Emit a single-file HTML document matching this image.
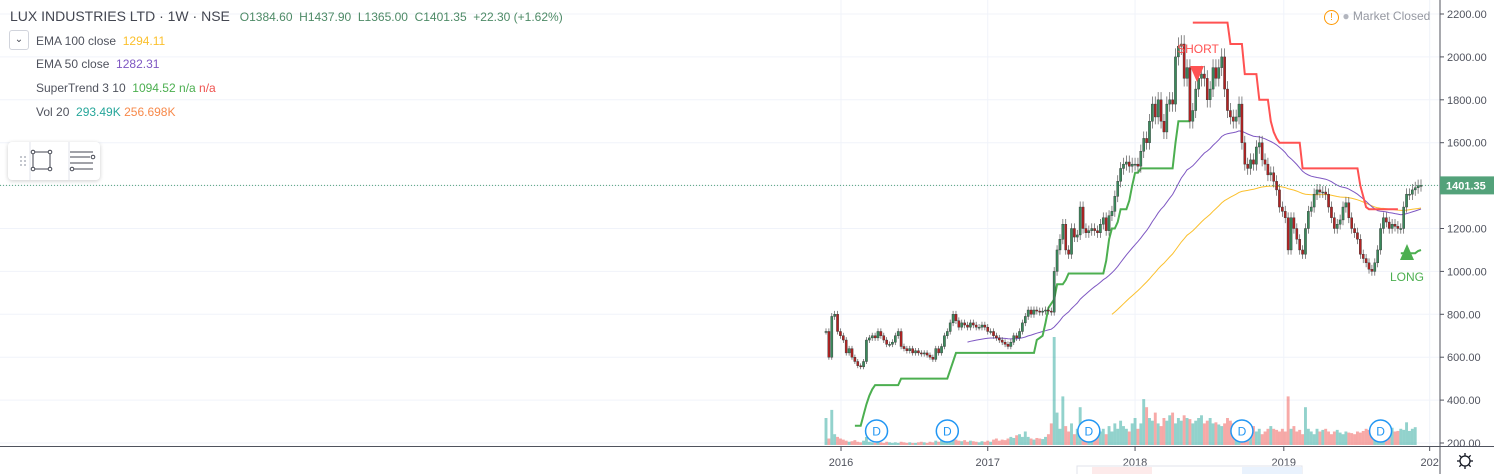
<!DOCTYPE html>
<html><head><meta charset="utf-8">
<style>
body{margin:0;width:1494px;height:474px;overflow:hidden;background:#fff;font-family:"Liberation Sans",sans-serif;}
#wrap{position:relative;width:1494px;height:474px;}
.t{position:absolute;white-space:nowrap;font-size:12px;color:#50535e;}
</style></head><body>
<div id="wrap">
<svg id="svg" width="1494" height="474" style="position:absolute;left:0;top:0"></svg>
<div class="t" style="left:10px;top:8px;font-size:14px;color:#434651">LUX INDUSTRIES LTD · 1W · NSE <span style="font-size:12px;color:#4d8a66;margin-left:6px">O1384.60&nbsp; H1437.90&nbsp; L1365.00&nbsp; C1401.35&nbsp; +22.30 (+1.62%)</span></div>
<div style="position:absolute;left:9px;top:30px;width:18px;height:18px;border:1px solid #d1d4dc;border-radius:3px;font-size:10px;text-align:center;line-height:18px;color:#434651">&#8964;</div>
<div class="t" style="left:36px;top:34px">EMA 100 close &nbsp;<span style="color:#fbc02d">1294.11</span></div>
<div class="t" style="left:36px;top:57px">EMA 50 close &nbsp;<span style="color:#7e57c2">1282.31</span></div>
<div class="t" style="left:36px;top:81px">SuperTrend 3 10 &nbsp;<span style="color:#4caf50">1094.52</span> <span style="color:#4caf50">n/a</span> <span style="color:#ef5350">n/a</span></div>
<div class="t" style="left:36px;top:105px">Vol 20 &nbsp;<span style="color:#26a69a">293.49K</span> <span style="color:#f7894a">256.698K</span></div>
<div style="position:absolute;left:8px;top:142px;width:92px;height:38px;background:#fff;border-radius:4px;box-shadow:0 1px 4px rgba(0,0,0,.2)">
<svg width="92" height="38"><g fill="#b2b5be"><circle cx="13" cy="15" r="1"/><circle cx="17" cy="15" r="1"/><circle cx="13" cy="19" r="1"/><circle cx="17" cy="19" r="1"/><circle cx="13" cy="23" r="1"/><circle cx="17" cy="23" r="1"/></g>
<line x1="22" y1="0" x2="22" y2="38" stroke="#e0e3eb"/><line x1="61" y1="0" x2="61" y2="38" stroke="#e0e3eb"/>
<g stroke="#434651" fill="#fff"><rect x="25" y="10" width="17" height="17" fill="none"/><circle cx="25" cy="10" r="1.8"/><circle cx="42" cy="10" r="1.8"/><circle cx="25" cy="27" r="1.8"/><circle cx="42" cy="27" r="1.8"/></g>
<g stroke="#434651" fill="#fff"><line x1="62" y1="10" x2="85" y2="10"/><line x1="62" y1="15" x2="82" y2="15"/><line x1="62" y1="21" x2="85" y2="21"/><line x1="66" y1="27" x2="85" y2="27"/><circle cx="85" cy="15" r="1.8"/><circle cx="64" cy="27" r="1.8"/></g></svg></div>
<div class="t" style="left:1324px;top:9px;color:#9598a1;font-size:12px"><span style="display:inline-block;width:13px;height:13px;border:1px solid #ff9800;border-radius:50%;color:#ff9800;text-align:center;line-height:13px;font-size:10px">!</span> <span style="color:#b2b5be">●</span> Market Closed</div>
</div>
<script>
const closes=[720,600,790,800,720,700,680,620,640,600,580,560,555,580,680,690,700,690,720,700,680,660,660,670,700,720,650,640,630,640,620,630,620,615,620,610,600,590,640,620,650,700,720,760,800,770,740,760,750,740,760,750,740,740,750,740,720,720,700,690,680,670,660,650,670,700,690,720,760,790,820,800,820,815,810,815,820,815,810,1000,1100,1150,1220,1100,1080,1200,1160,1170,1300,1200,1180,1190,1200,1190,1180,1220,1250,1190,1260,1280,1350,1420,1480,1500,1510,1490,1500,1500,1490,1560,1620,1600,1700,1780,1720,1800,1700,1650,1780,1800,1780,2000,2050,2060,1900,1950,1700,1750,1850,1900,1920,1900,1800,1850,1950,1900,1950,2000,1850,1750,1720,1700,1720,1780,1600,1500,1480,1520,1500,1580,1600,1520,1500,1450,1460,1420,1380,1300,1280,1250,1100,1250,1200,1150,1100,1080,1200,1280,1300,1360,1380,1370,1370,1360,1300,1250,1200,1220,1240,1300,1320,1250,1200,1180,1150,1080,1060,1040,1010,1000,1040,1100,1200,1250,1230,1200,1220,1210,1200,1200,1300,1360,1360,1380,1390,1400,1401];
const volumes=[500,120,650,200,150,120,100,80,60,70,90,60,50,80,150,60,50,40,60,50,40,60,50,40,50,40,60,50,40,50,40,40,50,60,50,40,60,50,80,60,100,250,120,100,150,100,80,70,90,60,80,70,60,50,70,60,80,60,100,120,80,100,90,120,150,130,180,200,150,250,150,120,100,130,120,110,150,200,400,2000,600,300,900,350,250,400,200,300,700,400,250,200,150,200,180,250,300,200,350,250,400,300,450,350,300,250,400,500,300,400,850,700,500,450,600,400,350,500,450,550,600,400,500,450,550,500,480,400,450,500,550,400,450,500,400,420,380,350,400,500,450,400,300,250,350,200,250,300,350,250,300,200,250,300,350,300,280,250,300,250,900,300,350,250,280,200,700,300,250,200,300,250,280,300,250,200,250,280,230,200,250,230,220,200,250,230,260,300,280,250,300,250,200,260,240,280,320,250,260,300,280,420,260,300,330];
// SuperTrend values per week (null before start)
const stValues=[null,null,null,null,null,null,null,null,null,null,
280,280,280,330,380,420,450,470,470,470,470,470,470,470,470,470,
500,500,500,500,500,500,500,500,500,500,500,500,500,500,500,500,500,
540,580,620,620,620,620,
620,620,620,620,620,620,620,620,620,620,620,620,620,620,620,620,620,620,620,620,620,620,620,620,
680,690,700,760,830,850,870,940,940,940,960,
990,990,990,990,990,990,990,990,990,990,990,990,990,
1050,1150,1200,1200,1230,1290,1290,1290,1330,1400,1460,1460,
1480,1480,1480,1480,1480,1480,1480,1480,1480,1480,1480,1480,
1600,1700,1700,1700,1700,1700,
2160,2160,2160,2160,2160,2160,2160,2160,2160,2160,2160,2160,2160,
2060,2060,2060,2060,2060,1920,1920,1920,1920,1920,
1800,1800,1800,1800,1700,1650,1620,1600,
1600,1600,1600,1600,1600,1600,1600,
1480,1480,1480,1480,1480,1480,1480,1480,1480,1480,1480,1480,1480,1480,1480,1480,1480,1480,1480,1480,
1400,1350,1300,1290,1290,1290,1290,1290,1290,1290,1290,1290,1290,1290,
1085,1085,1085,1085,1085,1085,1095,1100];
const stFlipDown=127, stFlipUp=199;
const priceTicks=[2200,2000,1800,1600,1400,1200,1000,800,600,400,200];
const yearLabels=["2016","2017","2018","2019","202"];
const yearWeek=[5.2,56,107,158.5,209];
const divWeeks=[17.5,42,91,144,192];
const NS="http://www.w3.org/2000/svg";
const svg=document.getElementById('svg');
const n=closes.length;
const X0=826,X1=1421;
function xOf(i){return X0+i*(X1-X0)/(n-1);}
function yOf(p){return 443-(p-200)*0.2145;}
function el(tag,attrs,parent){const e=document.createElementNS(NS,tag);for(const k in attrs)e.setAttribute(k,attrs[k]);(parent||svg).appendChild(e);return e;}
priceTicks.forEach(p=>{const l=el('line',{x1:0,x2:1440,y1:yOf(p),y2:yOf(p),stroke:'#f0f3fa'});

});
yearWeek.forEach(w=>{const l=el('line',{x1:xOf(w),x2:xOf(w),y1:0,y2:446,stroke:'#f0f3fa'});

});
const opens=closes.map((c,i)=>i?closes[i-1]:c);
const highs=closes.map((c,i)=>Math.max(c,opens[i])*1.02);
const lows=closes.map((c,i)=>Math.min(c,opens[i])*0.98);
const vg=el('g',{});


volumes.forEach((v,i)=>{const h=v*0.054;const up=closes[i]>=opens[i];
const r=el('rect',{x:xOf(i)-1.45,y:445-h,width:2.9,height:h,fill:up?'rgba(38,166,154,0.5)':'rgba(239,83,80,0.5)'},vg);

});
function ema(len,start){const out=[];let e=null;const k=2/(len+1);for(let i=0;i<n;i++){if(i<len-1){out.push(null);continue;}if(e===null){e=closes.slice(i-len+1,i+1).reduce((a,b)=>a+b)/len;}else e=closes[i]*k+e*(1-k);out.push(i>=start?e:null);}return out;}
function poly(vals,color,w,name){let d='';vals.forEach((v,i)=>{if(v==null)return;d+=(d?'L':'M')+xOf(i).toFixed(1)+','+yOf(v).toFixed(1);});const p=el('path',{d:d,fill:'none',stroke:color,'stroke-width':w});

}
poly(ema(100,98),'#fbc02d',1,'ema100-line');
poly(ema(50,47),'#7e57c2',1,'ema50-line');
poly(stValues.map((v,i)=>i<stFlipDown?v:null),'#4caf50',2,'supertrend-up');
poly(stValues.map((v,i)=>i>=stFlipDown&&i<stFlipUp?v:null),'#ff5252',2,'supertrend-down');
poly(stValues.map((v,i)=>i>=stFlipUp?v:null),'#4caf50',2,'supertrend-up-2');
const cg=el('g',{});


closes.forEach((c,i)=>{const o=opens[i];const upc=c>=o;const x=xOf(i);
el('line',{x1:x,x2:x,y1:yOf(highs[i]),y2:yOf(lows[i]),stroke:'#555','stroke-width':0.7},cg);
const r=el('rect',{x:x-1.1,y:yOf(Math.max(o,c)),width:2.2,height:Math.max(1,Math.abs(yOf(o)-yOf(c))),fill:upc?'#3a8a5c':'#b22222',stroke:'#333','stroke-width':0.4},cg);

});
const lp=el('line',{x1:0,x2:1440,y1:yOf(closes[n-1]),y2:yOf(closes[n-1]),stroke:'#53a27a','stroke-dasharray':'1,2'});


divWeeks.forEach(w=>{const g=el('g',{});


el('circle',{cx:xOf(w),cy:431,r:11,fill:'#fff',stroke:'#2196f3','stroke-width':1.5},g);
const t=el('text',{x:xOf(w),y:435.5,'text-anchor':'middle','font-size':12,fill:'#2196f3','font-family':'Liberation Sans'},g);t.textContent='D';});
const sg=el('g',{});


el('path',{d:'M1190,66 L1204,66 L1197,82 Z',fill:'#ff5252'},sg);
const st1=el('text',{x:1198,y:53,'text-anchor':'middle','font-size':12,fill:'#ff5252','font-family':'Liberation Sans'},sg);st1.textContent='SHORT';
const lg=el('g',{});


el('path',{d:'M1400,260 L1414,260 L1407,244 Z',fill:'#4caf50'},lg);
const lt=el('text',{x:1407,y:281,'text-anchor':'middle','font-size':12,fill:'#4caf50','font-family':'Liberation Sans'},lg);lt.textContent='LONG';
el('rect',{x:1440,y:0,width:54,height:474,fill:'#fff'});
el('line',{x1:1440,x2:1440,y1:0,y2:474,stroke:'#50535e'});
el('line',{x1:0,x2:1494,y1:446.5,y2:446.5,stroke:'#50535e'});
priceTicks.forEach(p=>{el('line',{x1:1440,x2:1444,y1:yOf(p),y2:yOf(p),stroke:'#50535e'});
const t=el('text',{x:1447,y:yOf(p)+4,'font-size':11,fill:'#50535e','font-family':'Liberation Sans'});


t.textContent=p.toFixed(2);});
const pb=el('rect',{x:1440,y:yOf(closes[n-1])-9,width:54,height:18,fill:'#53a27a'});


const pt=el('text',{x:1446,y:yOf(closes[n-1])+4,'font-size':11,fill:'#fff','font-weight':'bold','font-family':'Liberation Sans'});pt.textContent='1401.35';
yearLabels.forEach((y,i)=>{const x=xOf(yearWeek[i]);el('line',{x1:x,x2:x,y1:447,y2:451,stroke:'#50535e'});
const t=el('text',{x:x,y:466,'text-anchor':'middle','font-size':11,fill:'#50535e','font-family':'Liberation Sans'});


t.textContent=y;});
el('rect',{x:1440,y:447,width:54,height:27,fill:'#fff'});
el('line',{x1:1440,x2:1440,y1:447,y2:474,stroke:'#50535e'});
const gear=el('g',{});


[0,45,90,135].forEach(a=>{const r=a*Math.PI/180;el('line',{x1:1465+Math.cos(r)*8,y1:461+Math.sin(r)*8,x2:1465-Math.cos(r)*8,y2:461-Math.sin(r)*8,stroke:'#131722','stroke-width':1.3},gear);});
el('circle',{cx:1465,cy:461,r:5,fill:'#fff',stroke:'#131722','stroke-width':1.3},gear);
const tb=el('g',{});


el('rect',{x:1077,y:466,width:225,height:10,fill:'#fff',stroke:'#e0e3eb'},tb);
el('rect',{x:1092,y:467,width:60,height:8,fill:'#fdeaea'},tb);
el('rect',{x:1242,y:467,width:60,height:8,fill:'#e9f2fd'},tb);
</script>
</body></html>
